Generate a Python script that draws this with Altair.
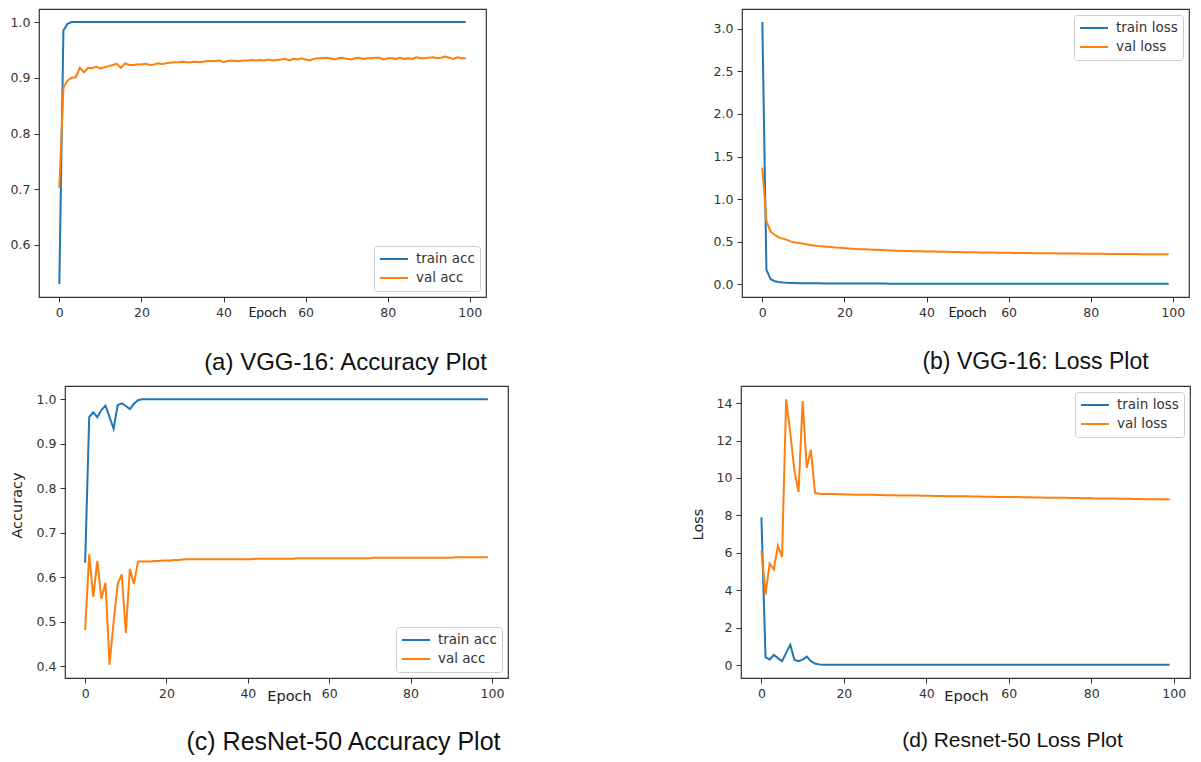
import altair as alt
import pandas as pd

epochs = list(range(100))

# (a) VGG-16 accuracy
vgg_train_acc = [
    0.530, 0.985, 0.997, 1.000, 1.000, 1.000, 1.000, 1.000, 1.000, 1.000,
    1.000, 1.000, 1.000, 1.000, 1.000, 1.000, 1.000, 1.000, 1.000, 1.000,
    1.000, 1.000, 1.000, 1.000, 1.000, 1.000, 1.000, 1.000, 1.000, 1.000,
    1.000, 1.000, 1.000, 1.000, 1.000, 1.000, 1.000, 1.000, 1.000, 1.000,
    1.000, 1.000, 1.000, 1.000, 1.000, 1.000, 1.000, 1.000, 1.000, 1.000,
    1.000, 1.000, 1.000, 1.000, 1.000, 1.000, 1.000, 1.000, 1.000, 1.000,
    1.000, 1.000, 1.000, 1.000, 1.000, 1.000, 1.000, 1.000, 1.000, 1.000,
    1.000, 1.000, 1.000, 1.000, 1.000, 1.000, 1.000, 1.000, 1.000, 1.000,
    1.000, 1.000, 1.000, 1.000, 1.000, 1.000, 1.000, 1.000, 1.000, 1.000,
    1.000, 1.000, 1.000, 1.000, 1.000, 1.000, 1.000, 1.000, 1.000, 1.000,
]
vgg_val_acc = [
    0.702, 0.882, 0.895, 0.900, 0.901, 0.918, 0.910, 0.918, 0.917, 0.920,
    0.917, 0.919, 0.921, 0.923, 0.925, 0.918, 0.926, 0.923, 0.923, 0.924,
    0.924, 0.925, 0.923, 0.924, 0.926, 0.925, 0.926, 0.927, 0.928, 0.928,
    0.929, 0.928, 0.928, 0.929, 0.928, 0.929, 0.930, 0.930, 0.930, 0.931,
    0.928, 0.930, 0.931, 0.930, 0.930, 0.931, 0.931, 0.932, 0.931, 0.932,
    0.931, 0.933, 0.931, 0.932, 0.933, 0.934, 0.931, 0.934, 0.933, 0.935,
    0.933, 0.931, 0.934, 0.935, 0.935, 0.936, 0.935, 0.933, 0.935, 0.936,
    0.934, 0.933, 0.935, 0.936, 0.934, 0.935, 0.935, 0.936, 0.936, 0.933,
    0.935, 0.935, 0.934, 0.936, 0.934, 0.935, 0.934, 0.937, 0.935, 0.935,
    0.936, 0.937, 0.935, 0.936, 0.938, 0.936, 0.934, 0.937, 0.935, 0.935,
]

# (b) VGG-16 loss
vgg_train_loss = [
    3.080, 0.170, 0.060, 0.035, 0.025, 0.020, 0.017, 0.015, 0.013, 0.012,
    0.011, 0.011, 0.010, 0.010, 0.010, 0.009, 0.009, 0.009, 0.009, 0.008,
    0.008, 0.008, 0.008, 0.008, 0.007, 0.007, 0.007, 0.007, 0.007, 0.007,
    0.007, 0.006, 0.006, 0.006, 0.006, 0.006, 0.006, 0.006, 0.006, 0.006,
    0.006, 0.006, 0.006, 0.006, 0.006, 0.005, 0.005, 0.005, 0.005, 0.005,
    0.005, 0.005, 0.005, 0.005, 0.005, 0.005, 0.005, 0.005, 0.005, 0.005,
    0.005, 0.005, 0.005, 0.005, 0.005, 0.005, 0.005, 0.005, 0.005, 0.005,
    0.005, 0.005, 0.004, 0.004, 0.004, 0.004, 0.004, 0.004, 0.004, 0.004,
    0.004, 0.004, 0.004, 0.004, 0.004, 0.004, 0.004, 0.004, 0.004, 0.004,
    0.004, 0.004, 0.004, 0.004, 0.004, 0.004, 0.004, 0.004, 0.004, 0.004,
]
vgg_val_loss = [
    1.370, 0.740, 0.620, 0.580, 0.550, 0.535, 0.520, 0.500, 0.490, 0.485,
    0.475, 0.465, 0.458, 0.452, 0.447, 0.443, 0.440, 0.435, 0.430, 0.427,
    0.423, 0.420, 0.416, 0.413, 0.411, 0.409, 0.407, 0.405, 0.403, 0.401,
    0.399, 0.397, 0.396, 0.394, 0.393, 0.391, 0.390, 0.388, 0.387, 0.386,
    0.385, 0.384, 0.383, 0.382, 0.381, 0.380, 0.379, 0.378, 0.377, 0.376,
    0.375, 0.374, 0.374, 0.373, 0.372, 0.371, 0.371, 0.370, 0.369, 0.369,
    0.368, 0.367, 0.367, 0.366, 0.366, 0.365, 0.364, 0.364, 0.363, 0.363,
    0.362, 0.362, 0.361, 0.361, 0.360, 0.360, 0.359, 0.359, 0.358, 0.358,
    0.357, 0.357, 0.356, 0.356, 0.355, 0.355, 0.355, 0.354, 0.354, 0.353,
    0.353, 0.353, 0.352, 0.352, 0.351, 0.351, 0.351, 0.350, 0.350, 0.350,
]

# (c) ResNet-50 accuracy
resnet_train_acc = [
    0.633, 0.960, 0.971, 0.960, 0.976, 0.986, 0.960, 0.934, 0.987, 0.991,
    0.985, 0.978, 0.990, 0.998, 1.000, 1.000, 1.000, 1.000, 1.000, 1.000,
    1.000, 1.000, 1.000, 1.000, 1.000, 1.000, 1.000, 1.000, 1.000, 1.000,
    1.000, 1.000, 1.000, 1.000, 1.000, 1.000, 1.000, 1.000, 1.000, 1.000,
    1.000, 1.000, 1.000, 1.000, 1.000, 1.000, 1.000, 1.000, 1.000, 1.000,
    1.000, 1.000, 1.000, 1.000, 1.000, 1.000, 1.000, 1.000, 1.000, 1.000,
    1.000, 1.000, 1.000, 1.000, 1.000, 1.000, 1.000, 1.000, 1.000, 1.000,
    1.000, 1.000, 1.000, 1.000, 1.000, 1.000, 1.000, 1.000, 1.000, 1.000,
    1.000, 1.000, 1.000, 1.000, 1.000, 1.000, 1.000, 1.000, 1.000, 1.000,
    1.000, 1.000, 1.000, 1.000, 1.000, 1.000, 1.000, 1.000, 1.000, 1.000,
]
resnet_val_acc = [
    0.482, 0.652, 0.556, 0.637, 0.552, 0.588, 0.404, 0.500, 0.585, 0.607,
    0.475, 0.619, 0.585, 0.636, 0.636, 0.636, 0.636, 0.637, 0.637, 0.638,
    0.638, 0.638, 0.639, 0.639, 0.640, 0.641, 0.641, 0.641, 0.641, 0.641,
    0.641, 0.641, 0.641, 0.641, 0.641, 0.641, 0.641, 0.641, 0.641, 0.641,
    0.641, 0.641, 0.642, 0.642, 0.642, 0.642, 0.642, 0.642, 0.642, 0.642,
    0.642, 0.642, 0.643, 0.643, 0.643, 0.643, 0.643, 0.643, 0.643, 0.643,
    0.643, 0.643, 0.643, 0.643, 0.643, 0.643, 0.643, 0.643, 0.643, 0.643,
    0.643, 0.644, 0.644, 0.644, 0.644, 0.644, 0.644, 0.644, 0.644, 0.644,
    0.644, 0.644, 0.644, 0.644, 0.644, 0.644, 0.644, 0.644, 0.644, 0.644,
    0.644, 0.645, 0.645, 0.645, 0.645, 0.645, 0.645, 0.645, 0.645, 0.645,
]

# (d) ResNet-50 loss
resnet_train_loss = [
    7.900, 0.430, 0.310, 0.550, 0.380, 0.220, 0.660, 1.100, 0.300, 0.220,
    0.300, 0.460, 0.220, 0.090, 0.040, 0.030, 0.030, 0.030, 0.030, 0.030,
    0.030, 0.030, 0.030, 0.030, 0.030, 0.030, 0.030, 0.030, 0.030, 0.030,
    0.030, 0.030, 0.030, 0.030, 0.030, 0.030, 0.030, 0.030, 0.030, 0.030,
    0.030, 0.030, 0.030, 0.030, 0.030, 0.030, 0.030, 0.030, 0.030, 0.030,
    0.030, 0.030, 0.030, 0.030, 0.030, 0.030, 0.030, 0.030, 0.030, 0.030,
    0.030, 0.030, 0.030, 0.030, 0.030, 0.030, 0.030, 0.030, 0.030, 0.030,
    0.030, 0.030, 0.030, 0.030, 0.030, 0.030, 0.030, 0.030, 0.030, 0.030,
    0.030, 0.030, 0.030, 0.030, 0.030, 0.030, 0.030, 0.030, 0.030, 0.030,
    0.030, 0.030, 0.030, 0.030, 0.030, 0.030, 0.030, 0.030, 0.030, 0.030,
]
resnet_val_loss = [
    6.10, 3.78, 5.43, 5.12, 6.39, 5.78, 14.20, 12.40, 10.40, 9.25,
    14.10, 10.55, 11.50, 9.20, 9.16, 9.15, 9.15, 9.14, 9.14, 9.13,
    9.13, 9.12, 9.12, 9.11, 9.11, 9.10, 9.10, 9.10, 9.09, 9.09,
    9.08, 9.08, 9.08, 9.07, 9.07, 9.07, 9.06, 9.06, 9.06, 9.05,
    9.05, 9.05, 9.04, 9.04, 9.04, 9.03, 9.03, 9.03, 9.02, 9.02,
    9.02, 9.01, 9.01, 9.01, 9.00, 9.00, 9.00, 8.99, 8.99, 8.99,
    8.98, 8.98, 8.98, 8.97, 8.97, 8.97, 8.96, 8.96, 8.96, 8.95,
    8.95, 8.95, 8.94, 8.94, 8.94, 8.93, 8.93, 8.93, 8.92, 8.92,
    8.92, 8.91, 8.91, 8.91, 8.90, 8.90, 8.90, 8.89, 8.89, 8.89,
    8.88, 8.88, 8.88, 8.87, 8.87, 8.87, 8.86, 8.86, 8.86, 8.85,
]

x_ticks = [0, 20, 40, 60, 80, 100]
acc_names = ["train acc", "val acc"]
loss_names = ["train loss", "val loss"]
colors = ["#1f77b4", "#ff7f0e"]


def panel(train, val, names, ydomain, yticks, yfmt, width, height,
          legend_orient, caption, caption_dx, caption_offset, caption_size,
          xtitle_x, xtitle_y, xtitle_font, xtitle_size,
          ytitle=None, ytitle_x=0, ytitle_y=0):
    df = pd.DataFrame({
        "epoch": epochs + epochs,
        "value": train + val,
        "series": [names[0]] * len(train) + [names[1]] * len(val),
    })
    yaxis_kw = dict(values=yticks, format=yfmt)
    if ytitle:
        yaxis_kw.update(title=ytitle, titleX=ytitle_x, titleY=ytitle_y,
                        titleAngle=270, titleAlign="center",
                        titleBaseline="middle", titleFont="DejaVu Sans",
                        titleFontSize=14.5, titleFontWeight="normal",
                        titleColor="#222")
        ytitle_field = ytitle
    else:
        ytitle_field = None
    return alt.Chart(df).mark_line(strokeWidth=2).encode(
        x=alt.X("epoch:Q",
                scale=alt.Scale(domain=[-4.95, 103.95], nice=False, zero=False),
                axis=alt.Axis(values=x_ticks, format="d", title="Epoch",
                              titleX=xtitle_x, titleY=xtitle_y,
                              titleAlign="center", titleBaseline="middle",
                              titleFont=xtitle_font, titleFontSize=xtitle_size,
                              titleFontWeight="normal", titleColor="#222")),
        y=alt.Y("value:Q",
                scale=alt.Scale(domain=ydomain, nice=False, zero=False),
                axis=alt.Axis(**yaxis_kw), title=ytitle_field),
        color=alt.Color("series:N",
                        scale=alt.Scale(domain=names, range=colors),
                        legend=alt.Legend(title=None, orient=legend_orient,
                                          offset=6, padding=5,
                                          strokeColor="#cccccc",
                                          fillColor="white", cornerRadius=3,
                                          symbolType="stroke", symbolSize=784,
                                          symbolStrokeWidth=2, clipHeight=16,
                                          rowPadding=3, labelOffset=7,
                                          labelFont="DejaVu Sans",
                                          labelFontSize=13.5,
                                          labelColor="#333")),
    ).properties(
        width=width, height=height,
        title=alt.TitleParams(text=caption, orient="bottom", anchor="middle",
                              dx=caption_dx, offset=caption_offset,
                              font="Liberation Sans", fontSize=caption_size,
                              fontWeight="normal", color="#111"),
    )


pa = panel(vgg_train_acc, vgg_val_acc, acc_names, [0.5065, 1.0235],
           [0.6, 0.7, 0.8, 0.9, 1.0], ".1f", 447, 288, "bottom-right",
           "(a) VGG-16: Accuracy Plot", 83, 32, 24, 228, 15, "Lato", 14)
pb = panel(vgg_train_loss, vgg_val_loss, loss_names, [-0.151, 3.234],
           [0.0, 0.5, 1.0, 1.5, 2.0, 2.5, 3.0], ".1f", 447, 288, "top-right",
           "(b) VGG-16: Loss Plot", 70, 32, 23, 225, 15, "Lato", 14)
pc = panel(resnet_train_acc, resnet_val_acc, acc_names, [0.374, 1.030],
           [0.4, 0.5, 0.6, 0.7, 0.8, 0.9, 1.0], ".1f", 443, 292, "bottom-right",
           "(c) ResNet-50 Accuracy Plot", 57, 27, 25, 224, 18, "DejaVu Sans", 14.5,
           "Accuracy", -48, 119)
pd_ = panel(resnet_train_loss, resnet_val_loss, loss_names, [-0.68, 14.91],
            [0, 2, 4, 6, 8, 10, 12, 14], "d", 449, 292, "top-right",
            "(d) Resnet-50 Loss Plot", 47, 27, 21, 225, 18, "DejaVu Sans", 14.5,
            "Loss", -43, 138)

spacer = alt.Chart(pd.DataFrame({"s": [0]})).mark_point(opacity=0, size=1).encode(
    x=alt.value(0), y=alt.value(5)
).properties(width=6, height=10,
             view=alt.ViewBackground(stroke="transparent", strokeOpacity=0))

row1 = alt.hconcat(pa, pb, spacing=256, bounds="flush").resolve_scale(color="independent")
inner2 = alt.hconcat(pc, pd_, spacing=233, bounds="flush").resolve_scale(color="independent")
row2 = alt.hconcat(spacer, inner2, spacing=20, bounds="flush").resolve_scale(color="independent")

chart = alt.vconcat(row1, row2, spacing=9).resolve_scale(
    color="independent"
).properties(
    padding={"left": 0, "top": 0, "right": 0, "bottom": 0}
).configure(font="DejaVu Sans").configure_view(
    stroke="#333333", strokeWidth=1.2
).configure_axis(
    grid=False, domain=False, tickColor="#333333", tickSize=5, tickWidth=1,
    labelFont="DejaVu Sans", labelFontSize=12.5, labelColor="#333333",
    labelPadding=4, labelFlush=False
)

chart.save("out.html", embed_options={"renderer": "svg", "actions": False})
